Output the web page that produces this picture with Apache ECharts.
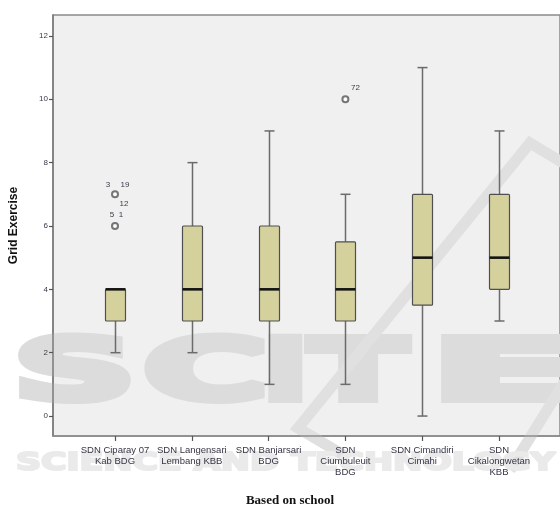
<!DOCTYPE html>
<html>
<head>
<meta charset="utf-8">
<script src="https://cdn.jsdelivr.net/npm/echarts@6/dist/echarts.min.js"></script>
<style>
  html, body { margin: 0; padding: 0; background: #ffffff; }
  #chart { width: 560px; height: 509px; }
</style>
</head>
<body>
<div id="chart"></div>
<script>
// Schools on the category axis
const schools = [
  'SDN Ciparay 07\nKab BDG',
  'SDN Langensari\nLembang KBB',
  'SDN Banjarsari\nBDG',
  'SDN\nCiumbuleuit\nBDG',
  'SDN Cimandiri\nCimahi',
  'SDN\nCikalongwetan\nKBB'
];

// Five-number summaries of the Grid Exercise score per school
const whiskerLow  = [2, 2, 1, 1, 0,   3];
const quartile1   = [3, 3, 3, 3, 3.5, 4];
const medians     = [4, 4, 4, 4, 5,   5];
const quartile3   = [4, 6, 6, 5.5, 7, 7];
const whiskerHigh = [4, 8, 9, 7, 11,  9];

// Outliers: school index, score, and the case numbers printed beside each
const outlierSchool = [0, 0, 3];
const outlierValue  = [7, 6, 10];
const outlierCases  = [['3', '19', '12'], ['5', '1'], ['72']];

// Value-axis ticks
const yTicks = [0, 2, 4, 6, 8, 10, 12];
const yMin = -0.63;
const yMax = 12.66;

// Where each case number sits relative to its circle (pixels)
const caseLabelOffset = {
  '3': [-7, -10], '19': [10, -10], '12': [9, 9],
  '5': [-3, -11], '1': [6, -11], '72': [10, -11]
};

const boxData = schools.map((s, i) =>
  [i, whiskerLow[i], quartile1[i], medians[i], quartile3[i], whiskerHigh[i]]);
const outlierData = outlierSchool.map((s, k) => [s, outlierValue[k]]);
const caseData = [];
outlierCases.forEach((cases, k) => {
  cases.forEach(c => caseData.push({ value: [outlierSchool[k], outlierValue[k]], caseId: c }));
});

function renderBox(params, api) {
  const i = api.value(0);
  const lo = api.coord([i, api.value(1)]);
  const q1 = api.coord([i, api.value(2)]);
  const md = api.coord([i, api.value(3)]);
  const q3 = api.coord([i, api.value(4)]);
  const hi = api.coord([i, api.value(5)]);
  const x = Math.round(lo[0]) + 0.5;
  const half = 10, cap = 5;
  const whisker = { stroke: '#6b6b6b', lineWidth: 1.5 };
  return {
    type: 'group',
    children: [
      { type: 'line', shape: { x1: x, y1: q1[1], x2: x, y2: lo[1] }, style: whisker },
      { type: 'line', shape: { x1: x, y1: q3[1], x2: x, y2: hi[1] }, style: whisker },
      { type: 'line', shape: { x1: x - cap, y1: lo[1], x2: x + cap, y2: lo[1] }, style: whisker },
      { type: 'line', shape: { x1: x - cap, y1: hi[1], x2: x + cap, y2: hi[1] }, style: whisker },
      { type: 'rect', shape: { x: x - half, y: q3[1], width: 2 * half, height: q1[1] - q3[1], r: 1 },
        style: { fill: '#d5d19c', stroke: '#4f4f4f', lineWidth: 1.2 } },
      { type: 'line', shape: { x1: x - half, y1: md[1], x2: x + half, y2: md[1] },
        style: { stroke: '#141414', lineWidth: 2.6 } }
    ]
  };
}

function renderCase(params, api) {
  const item = caseData[params.dataIndex];
  const p = api.coord([api.value(0), api.value(1)]);
  const off = caseLabelOffset[item.caseId] || [8, -10];
  return {
    type: 'text',
    x: p[0] + off[0],
    y: p[1] + off[1],
    style: {
      text: item.caseId,
      font: '8px "Liberation Sans", Arial, sans-serif',
      fill: '#3a3a48',
      textAlign: 'center',
      textVerticalAlign: 'middle'
    }
  };
}

// Faint publisher watermark, drawn behind the axes and boxes
const wmGrey = '#dcdcdc';
const wmFont = 'bold 84px "DejaVu Sans", sans-serif';
function wmLetter(ch, x, sx) {
  return { type: 'text', x: x, y: 377, scaleX: sx, z: 1, silent: true,
    style: { text: ch, font: wmFont, fill: wmGrey, stroke: wmGrey, lineWidth: 8,
      textAlign: 'left', textVerticalAlign: 'middle' } };
}

const chart = echarts.init(document.getElementById('chart'), null, { renderer: 'canvas' });

chart.setOption({
  animation: false,
  backgroundColor: '#ffffff',
  grid: [
    { left: 50, right: -5, top: 15, bottom: 73, show: true, z: 0,
      backgroundColor: '#f0f0f0', borderColor: '#8a8a8a', borderWidth: 1.5 },
    { left: 76.6, right: 22.6, top: 15, bottom: 73 }
  ],
  xAxis: [
    { type: 'value', gridIndex: 0, min: 0, max: 1, z: 5,
      axisLine: { show: true, onZero: false, lineStyle: { color: '#8a8a8a', width: 1.5 } },
      axisTick: { show: false }, axisLabel: { show: false }, splitLine: { show: false } },
    { type: 'category', gridIndex: 1, data: schools, boundaryGap: true, position: 'bottom', z: 5,
      axisLine: { show: false, onZero: false },
      axisTick: { show: true, alignWithLabel: true, length: 5,
        lineStyle: { color: '#555555', width: 1.2 } },
      axisLabel: { interval: 0, margin: 9, fontSize: 9.5, lineHeight: 11,
        fontFamily: '"Liberation Sans", Arial, sans-serif', color: '#363646' },
      splitLine: { show: false }
    }
  ],
  yAxis: [
    { type: 'value', gridIndex: 0, min: yMin, max: yMax, z: 5,
      name: 'Grid Exercise', nameLocation: 'middle', nameGap: 33, nameRotate: 90,
      nameTextStyle: { fontSize: 12, fontWeight: 'bold', color: '#111111',
        fontFamily: '"Liberation Sans", Arial, sans-serif' },
      axisLine: { show: true, onZero: false, lineStyle: { color: '#7a7a7a', width: 1.5 } },
      axisTick: { show: true, length: 4, customValues: yTicks,
        lineStyle: { color: '#555555', width: 1.2 } },
      axisLabel: { customValues: yTicks, fontSize: 8, margin: 5, color: '#3a3a48',
        fontFamily: '"Liberation Sans", Arial, sans-serif' },
      splitLine: { show: false }
    },
    { type: 'value', gridIndex: 1, min: yMin, max: yMax, show: false }
  ],
  series: [
    { type: 'custom', xAxisIndex: 1, yAxisIndex: 1, renderItem: renderBox,
      encode: { x: 0, y: [1, 2, 3, 4, 5] }, data: boxData, z: 6 },
    { type: 'scatter', xAxisIndex: 1, yAxisIndex: 1, data: outlierData,
      symbol: 'emptyCircle', symbolSize: 6,
      itemStyle: { color: '#555555', borderColor: '#555555', borderWidth: 1.3 }, z: 7 },
    { type: 'custom', xAxisIndex: 1, yAxisIndex: 1, renderItem: renderCase,
      encode: { x: 0, y: 1 }, data: caseData.map(d => d.value), z: 8 }
  ],
  graphic: [
    wmLetter('S', 14, 2.0),
    wmLetter('C', 144, 2.0),
    wmLetter('I', 263, 1.43),
    wmLetter('T', 310, 1.68),
    wmLetter('E', 432, 2.47),
    { type: 'polyline', z: 1, silent: true,
      shape: { points: [[345, 456], [298, 428], [530, 143], [578, 172]] },
      style: { stroke: '#e0e0e0', lineWidth: 11, fill: null, lineJoin: 'miter' } },
    { type: 'line', z: 1, silent: true,
      shape: { x1: 578, y1: 360, x2: 510, y2: 470 },
      style: { stroke: '#e0e0e0', lineWidth: 11 } },
    { type: 'text', x: 16, y: 464, scaleX: 1.45, z: 1, silent: true,
      style: { text: 'SCIENCE AND TECHNOLOGY', font: 'bold 24px "DejaVu Sans", sans-serif',
        fill: '#eaeaea', stroke: '#eaeaea', lineWidth: 2,
        textAlign: 'left', textVerticalAlign: 'middle' } },
    { type: 'text', x: 290, y: 501, z: 10,
      style: { text: 'Based on school', font: 'bold 13px "Liberation Serif", "Times New Roman", serif',
        fill: '#111111', textAlign: 'center', textVerticalAlign: 'middle' } }
  ]
});
</script>
</body>
</html>
